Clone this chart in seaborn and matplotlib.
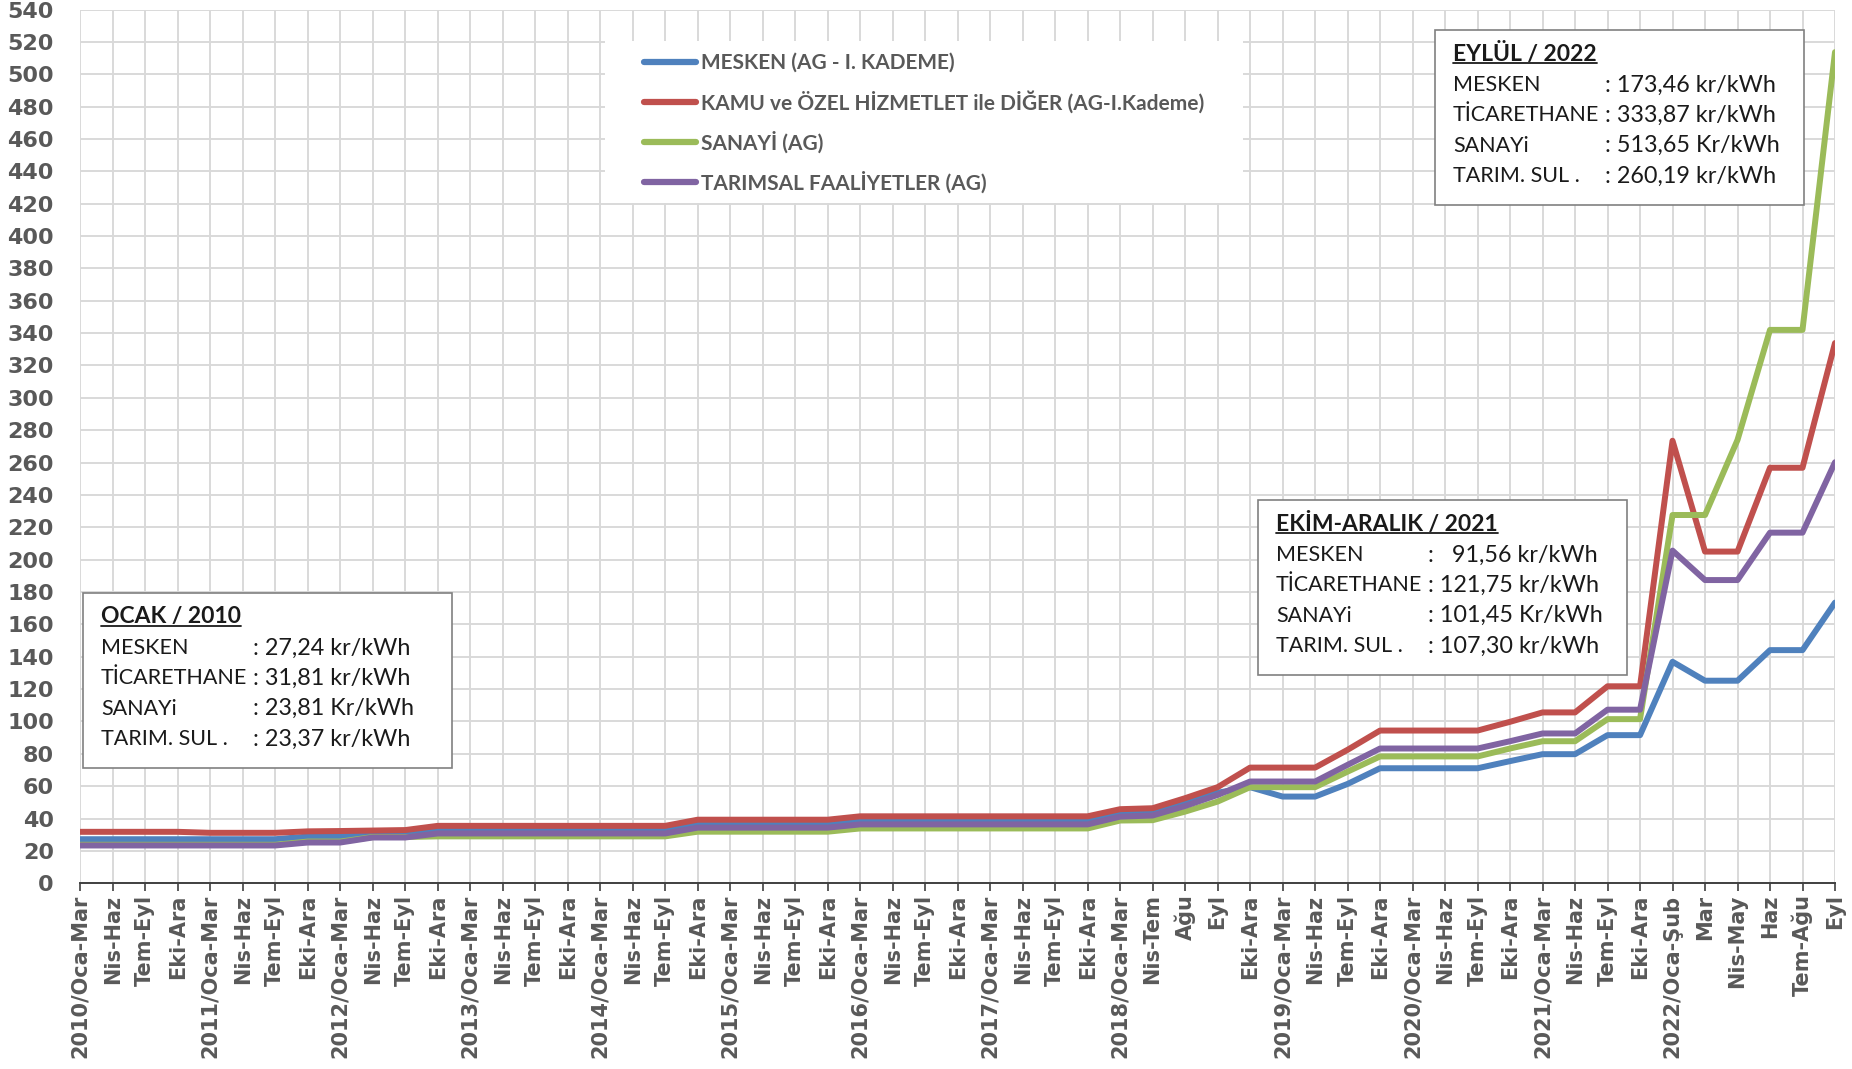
import pandas as pd
import matplotlib.pyplot as plt
import seaborn as sns
from matplotlib.lines import Line2D
from matplotlib.patches import Rectangle

# =========================================================
# DATA
# =========================================================

x_labels = [
    "2010/Oca-Mar", "Nis-Haz", "Tem-Eyl", "Eki-Ara",
    "2011/Oca-Mar", "Nis-Haz", "Tem-Eyl", "Eki-Ara",
    "2012/Oca-Mar", "Nis-Haz", "Tem-Eyl", "Eki-Ara",
    "2013/Oca-Mar", "Nis-Haz", "Tem-Eyl", "Eki-Ara",
    "2014/Oca-Mar", "Nis-Haz", "Tem-Eyl", "Eki-Ara",
    "2015/Oca-Mar", "Nis-Haz", "Tem-Eyl", "Eki-Ara",
    "2016/Oca-Mar", "Nis-Haz", "Tem-Eyl", "Eki-Ara",
    "2017/Oca-Mar", "Nis-Haz", "Tem-Eyl", "Eki-Ara",
    "2018/Oca-Mar", "Nis-Tem", "Ağu", "Eyl", "Eki-Ara",
    "2019/Oca-Mar", "Nis-Haz", "Tem-Eyl", "Eki-Ara",
    "2020/Oca-Mar", "Nis-Haz", "Tem-Eyl", "Eki-Ara",
    "2021/Oca-Mar", "Nis-Haz", "Tem-Eyl", "Eki-Ara",
    "2022/Oca-Şub", "Mar", "Nis-May", "Haz", "Tem-Ağu", "Eyl",
]

series_names = [
    "MESKEN (AG - I. KADEME)",
    "KAMU ve ÖZEL HİZMETLET ile DİĞER (AG-I.Kademe)",
    "SANAYİ (AG)",
    "TARIMSAL FAALİYETLER (AG)",
]

mesken = [
    27.24, 27.24, 27.24, 27.24, 27.24, 27.24, 27.24, 28.9, 28.9, 30.4, 30.4,
    33.2, 33.2, 33.2, 33.2, 33.2, 33.2, 33.2, 33.2,
    36.6, 36.6, 36.6, 36.6, 36.6,
    38.6, 38.6, 38.6, 38.6, 38.6, 38.6, 38.6, 38.6,
    43.5, 44.0, 49.5, 56.0, 59.4,
    53.6, 53.6, 61.4, 71.1, 71.1, 71.1, 71.1, 75.5,
    79.8, 79.8, 91.56, 91.56,
    136.9, 125.2, 125.2, 144.1, 144.1, 173.46,
]

kamu = [
    31.81, 31.81, 31.81, 31.81, 31.2, 31.2, 31.2, 32.1, 32.3, 32.6, 32.9,
    35.5, 35.5, 35.5, 35.5, 35.5, 35.5, 35.5, 35.5,
    39.3, 39.3, 39.3, 39.3, 39.3,
    41.4, 41.4, 41.4, 41.4, 41.4, 41.4, 41.4, 41.4,
    45.8, 46.4, 52.6, 59.4, 71.5,
    71.5, 71.5, 82.5, 94.4, 94.4, 94.4, 94.4, 99.8,
    105.6, 105.6, 121.75, 121.75,
    273.5, 205.0, 205.0, 256.8, 256.8, 333.87,
]

sanayi = [
    23.81, 23.81, 23.81, 23.81, 23.81, 23.81, 23.81, 25.8, 25.8, 28.6, 28.6,
    29.0, 29.0, 29.0, 29.0, 29.0, 29.0, 29.0, 29.0,
    31.9, 31.9, 31.9, 31.9, 31.9,
    33.9, 33.9, 33.9, 33.9, 33.9, 33.9, 33.9, 33.9,
    38.8, 39.0, 44.3, 50.5, 59.4,
    59.4, 59.4, 69.0, 78.4, 78.4, 78.4, 78.4, 83.3,
    87.8, 87.8, 101.45, 101.45,
    227.6, 227.6, 274.0, 342.0, 342.0, 513.65,
]

tarim = [
    23.37, 23.37, 23.37, 23.37, 23.37, 23.37, 23.37, 25.2, 25.2, 28.3, 28.3,
    30.8, 30.8, 30.8, 30.8, 30.8, 30.8, 30.8, 30.8,
    34.4, 34.4, 34.4, 34.4, 34.4,
    36.4, 36.4, 36.4, 36.4, 36.4, 36.4, 36.4, 36.4,
    41.2, 41.9, 47.8, 54.6, 62.9,
    62.9, 62.9, 73.2, 83.3, 83.3, 83.3, 83.3, 87.8,
    92.6, 92.6, 107.30, 107.30,
    205.6, 187.4, 187.4, 216.7, 216.7, 260.19,
]

colors = ["#4f81bd", "#c0504d", "#9bbb59", "#8064a2"]

y_ticks = list(range(0, 541, 20))

# info boxes
box_titles = ["OCAK / 2010", "EKİM-ARALIK / 2021", "EYLÜL / 2022"]
box_labels = ["MESKEN", "TİCARETHANE", "SANAYi", "TARIM. SUL ."]
box_values = [
    ["27,24 kr/kWh", "31,81 kr/kWh", "23,81 Kr/kWh", "23,37 kr/kWh"],
    ["  91,56 kr/kWh", "121,75 kr/kWh", "101,45 Kr/kWh", "107,30 kr/kWh"],
    ["173,46 kr/kWh", "333,87 kr/kWh", "513,65 Kr/kWh", "260,19 kr/kWh"],
]
# top-left corners of the boxes, figure pixels
box_corners = [(83, 593), (1258, 500), (1435, 30)]

# =========================================================
# LONG FORM TABLE
# =========================================================

df = pd.DataFrame({
    "idx": list(range(len(x_labels))) * 4,
    "value": mesken + kamu + sanayi + tarim,
    "series": [s for s in series_names for _ in x_labels],
})

# =========================================================
# STYLE
# =========================================================

sns.set_style("whitegrid")
plt.rcParams["font.family"] = ["DejaVu Sans"]

W, H = 1852, 1069
fig = plt.figure(figsize=(W / 100, H / 100), dpi=100)
ax = fig.add_axes([80.3 / W, 1 - 883.3 / H, (1835 - 80.3) / W, (883.3 - 9.5) / H])


def fx(px):
    return px / W


def fy(py):
    return 1 - py / H


sns.lineplot(
    data=df,
    x="idx",
    y="value",
    hue="series",
    hue_order=series_names,
    palette=dict(zip(series_names, colors)),
    linewidth=4.3,
    sort=False,
    legend=False,
    ax=ax,
)

# ---------------------------------------------------------
# Axes
# ---------------------------------------------------------

ax.set_xlim(0, len(x_labels) - 1)
ax.set_ylim(0, 540)
ax.set_xticks(range(len(x_labels)))
ax.set_xticklabels(x_labels, rotation=90, ha="center", va="top")
ax.set_yticks(y_ticks)
ax.set_xlabel("")
ax.set_ylabel("")

ax.grid(True, color="#d9d9d9", linewidth=1.4)
ax.set_axisbelow(True)

for side in ["top", "right", "left"]:
    ax.spines[side].set_visible(False)
ax.spines["bottom"].set_color("#404040")
ax.spines["bottom"].set_linewidth(1.4)

ax.tick_params(axis="x", bottom=True, length=6, width=1.2, color="#404040",
               pad=2, labelsize=15, labelcolor="#595959")
ax.tick_params(axis="y", left=False, length=0, pad=19,
               labelsize=16, labelcolor="#595959")
for lab in ax.get_xticklabels() + ax.get_yticklabels():
    lab.set_fontweight("bold")

# ---------------------------------------------------------
# Legend
# ---------------------------------------------------------

fig.add_artist(Rectangle((fx(605), fy(203)), fx(1243) - fx(605), fy(41) - fy(203),
                         transform=fig.transFigure, facecolor="white",
                         edgecolor="none", zorder=3))

handles = [Line2D([0], [0], color=c, linewidth=4.5, solid_capstyle="round")
           for c in colors]
leg = fig.legend(
    handles, series_names,
    loc="upper left",
    bbox_to_anchor=(fx(644), fy(53)),
    bbox_transform=fig.transFigure,
    frameon=False,
    handlelength=2.5,
    handletextpad=0.22,
    labelspacing=0.85,
    borderpad=0,
    borderaxespad=0,
    prop={"family": "Lato", "weight": "bold", "size": 15},
)
leg.set_zorder(5)
for t in leg.get_texts():
    t.set_color("#595959")

# ---------------------------------------------------------
# Info boxes
# ---------------------------------------------------------

titles = []
for (bx, by), title, values in zip(box_corners, box_titles, box_values):
    fig.add_artist(Rectangle((fx(bx), fy(by + 175)), fx(369), 175 / H,
                             transform=fig.transFigure, facecolor="white",
                             edgecolor="#808080", linewidth=1.2, zorder=3))
    t = fig.text(fx(bx + 18), fy(by + 24), title, ha="left", va="center",
                 family="Lato", weight="bold", size=16.5, color="#1a1a1a", zorder=4)
    titles.append(t)
    for k, (lab, val) in enumerate(zip(box_labels, values)):
        yy = fy(by + 55 + 30.3 * k)
        fig.text(fx(bx + 18), yy, lab, ha="left", va="center",
                 family="Lato", size=15.5, color="#1a1a1a", zorder=4)
        fig.text(fx(bx + 170), yy, ": " + val, ha="left", va="center",
                 family="Lato", size=16.8, color="#1a1a1a", zorder=4)

# underline the box titles
fig.canvas.draw()
renderer = fig.canvas.get_renderer()
for t in titles:
    bb = t.get_window_extent(renderer=renderer)
    fig.add_artist(Line2D([bb.x0 / W, bb.x1 / W], [(bb.y0 + 2) / H, (bb.y0 + 2) / H],
                          transform=fig.transFigure, color="#1a1a1a",
                          linewidth=1.3, zorder=4))

fig.savefig("out.png", dpi=100)
